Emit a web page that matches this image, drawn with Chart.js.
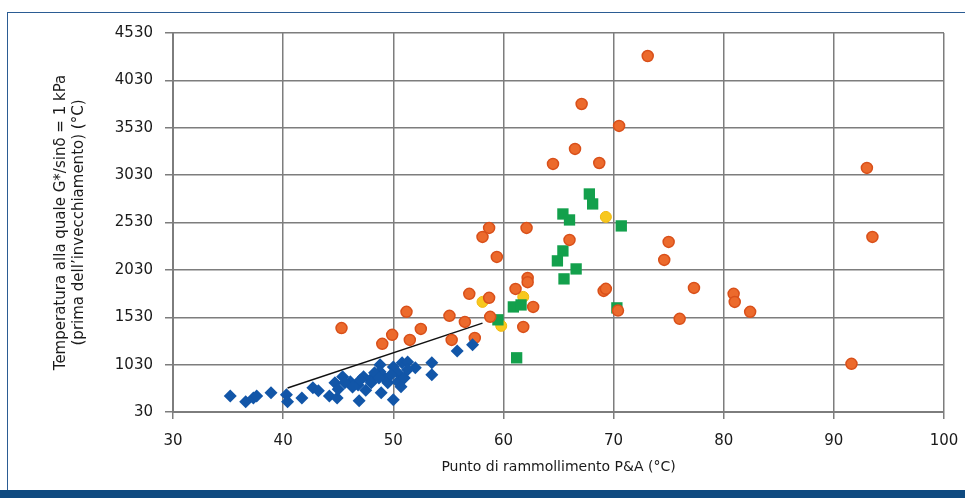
<!DOCTYPE html>
<html>
<head>
<meta charset="utf-8">
<script src="https://cdn.jsdelivr.net/npm/chart.js@4/dist/chart.umd.min.js"></script>
<style>
  html, body { margin: 0; padding: 0; background: #fff; }
  #wrap { position: relative; width: 965px; height: 498px; overflow: hidden; }
  #frame { position: absolute; left: 7px; top: 12px; right: -2px; bottom: 8px;
           border-top: 1px solid #2b5c93; border-left: 1px solid #2b5c93; }
  #band { position: absolute; left: 0; right: 0; bottom: 0; height: 8px; background: #0f4a80; }
  canvas { position: absolute; left: 0; top: 0; }
</style>
</head>
<body>
<div id="wrap">
  <div id="frame"></div>
  <div id="band"></div>
  <canvas id="myChart" width="965" height="490"></canvas>
</div>
<script>
// valori: [punto di rammollimento, temperatura]
const seriesBlu = [
  [35.2, 700], [36.6, 637], [37.3, 679], [37.6, 700], [38.9, 732], [40.3, 711], [40.4, 637],
  [41.7, 679], [42.7, 785], [43.2, 753], [44.2, 700], [44.9, 679], [44.7, 838], [45.4, 901],
  [46.1, 848], [46.8, 816], [46.9, 648], [47.3, 901], [47.9, 869], [48.8, 1028], [48.9, 732],
  [49.1, 901], [48.8, 954], [49.5, 838], [50.0, 658], [50.0, 1006], [50.4, 943], [50.8, 1049],
  [51.3, 1059], [52.0, 996], [50.4, 848], [53.5, 1049], [53.5, 922], [55.8, 1175], [57.2, 1239],
  [45.6, 838], [47.0, 869], [48.0, 838], [48.3, 943], [48.7, 890], [46.3, 795], [49.8, 922],
  [51.0, 890], [51.3, 975], [50.7, 796], [45.0, 770], [47.5, 760]
];
const seriesArancio = [
  [73.1, 4287], [67.1, 3781], [70.5, 3549], [66.5, 3307], [64.5, 3148], [68.7, 3158], [93.0, 3106],
  [62.1, 2473], [58.7, 2473], [58.1, 2378], [59.4, 2167], [66.0, 2346], [75.0, 2325], [74.6, 2135],
  [77.3, 1840], [69.1, 1808], [69.3, 1830], [76.0, 1513], [62.2, 1945], [62.2, 1900], [61.1, 1829],
  [62.7, 1639], [61.8, 1428], [56.9, 1777], [58.7, 1735], [55.1, 1545], [56.5, 1481], [58.8, 1534],
  [57.4, 1312], [55.3, 1291], [45.3, 1416], [51.2, 1587], [49.9, 1344], [49.0, 1249], [51.5, 1291],
  [52.5, 1407], [93.5, 2378], [80.9, 1777], [81.0, 1692], [82.4, 1587], [91.6, 1038], [70.4, 1600]
];
const seriesVerde = [
  [67.8, 2831], [68.1, 2726], [65.4, 2620], [66.0, 2557], [70.7, 2494], [65.4, 2230], [64.9, 2125],
  [66.6, 2040], [65.5, 1935], [60.9, 1639], [61.6, 1660], [70.3, 1629], [59.5, 1503], [61.2, 1102]
];
const seriesGiallo = [[69.3, 2589], [58.1, 1692], [61.8, 1745], [59.8, 1439]];
const lineaTendenza = [[40.4, 784], [58.1, 1468]];

const xTicks = [30, 40, 50, 60, 70, 80, 90, 100];
const yTickLabels = ['30', '1030', '1530', '2030', '2530', '3030', '3530', '4030', '4530'];

const toXY = arr => arr.map(p => ({ x: p[0], y: p[1] }));
const font = 'DejaVu Sans';

const ctx = document.getElementById('myChart').getContext('2d');
const myChart = new Chart(ctx, {
  type: 'scatter',
  data: {
    datasets: [
      { data: toXY(seriesBlu), pointStyle: 'rectRot', pointRadius: 6.5, backgroundColor: '#1256a8', borderColor: '#1256a8', borderWidth: 0 },
      { data: toXY(seriesArancio), pointStyle: 'circle', pointRadius: 5.5, backgroundColor: '#ec6a2c', borderColor: '#d9501a', borderWidth: 1.5 },
      { data: toXY(seriesVerde), pointStyle: 'rect', pointRadius: 8, backgroundColor: '#13a04c', borderColor: '#13a04c', borderWidth: 0 },
      { data: toXY(seriesGiallo), pointStyle: 'circle', pointRadius: 5.5, backgroundColor: '#f7c81e', borderColor: '#f2b90e', borderWidth: 1 },
      { type: 'line', data: toXY(lineaTendenza), borderColor: '#111', borderWidth: 1.5, pointRadius: 0, fill: false }
    ]
  },
  options: {
    responsive: false,
    animation: false,
    layout: { padding: { left: 52, right: 21, top: 33, bottom: 10 } },
    plugins: { legend: { display: false }, tooltip: { enabled: false } },
    scales: {
      x: {
        type: 'linear', min: 30, max: 100,
        afterBuildTicks: s => { s.ticks = xTicks.map(v => ({ value: v })); },
        afterFit: s => { s.height = 68; s.paddingRight = 0; s.paddingLeft = 0; },
        grid: { color: '#7d7d7d', lineWidth: 1.5, tickLength: 7 },
        border: { color: '#7d7d7d', width: 2 },
        ticks: { color: '#1a1a1a', font: { family: font, size: 15 }, padding: 13 },
        title: { display: true, text: 'Punto di rammollimento P&A (°C)', color: '#1a1a1a',
                 font: { family: font, size: 14 }, padding: { top: 0 } }
      },
      y: {
        min: 530, max: 4530,
        ticks: { stepSize: 500, color: '#1a1a1a', font: { family: font, size: 15 }, padding: 12,
                 callback: (v, i) => yTickLabels[i] },
        afterFit: s => { s.width = 121; },
        grid: { color: '#7d7d7d', lineWidth: 1.5, tickLength: 8 },
        border: { color: '#7d7d7d', width: 2 },
        title: { display: true, text: ['Temperatura alla quale G*/sinδ = 1 kPa', '(prima dell’invecchiamento) (°C)'],
                 color: '#1a1a1a', font: { family: font, size: 15 }, padding: 0, lineHeight: 1.05 }
      }
    }
  }
});
myChart.update();
</script>
</body>
</html>
